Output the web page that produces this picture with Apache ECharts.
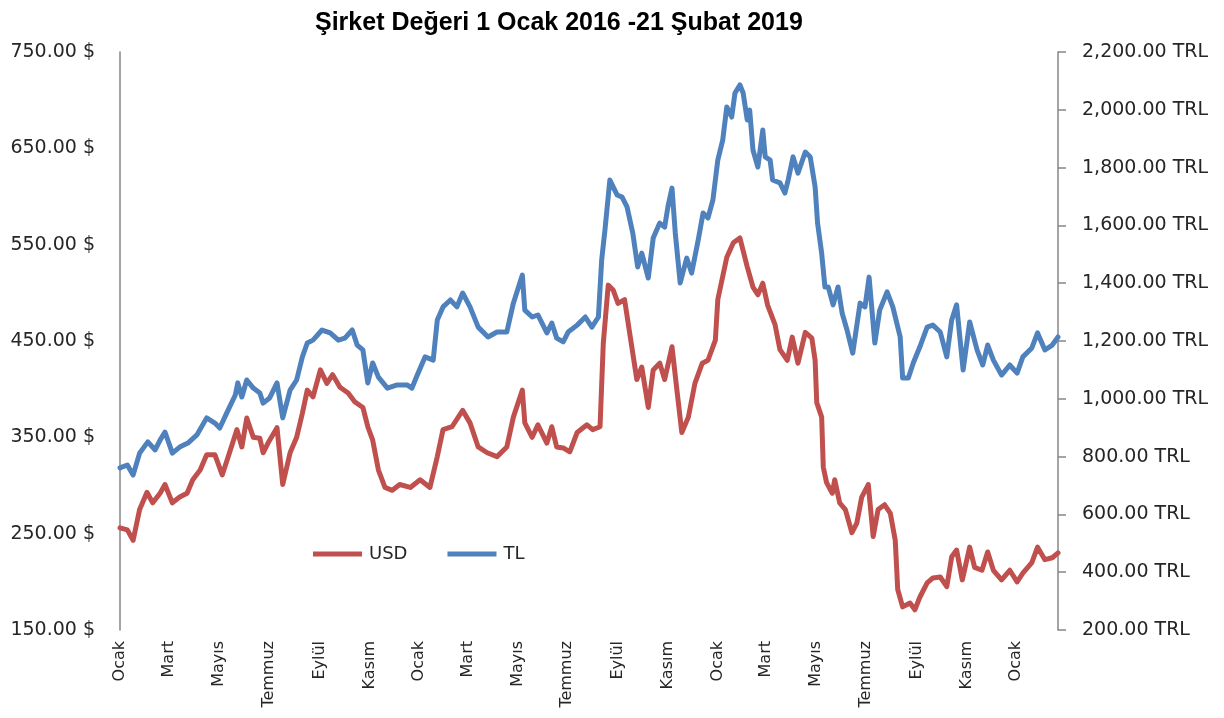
<!DOCTYPE html>
<html>
<head>
<meta charset="utf-8">
<title>Şirket Değeri</title>
<script src="https://cdn.jsdelivr.net/npm/echarts@6.0.0/dist/echarts.min.js"></script>
<style>
  html, body { margin: 0; padding: 0; background: #fff; }
  #chart { width: 1224px; height: 718px; }
</style>
</head>
<body>
<div id="chart"></div>
<script>
// değerler (yaklaşık)
const usdDates = [
  '2016-01-01', '2016-01-10', '2016-01-17', '2016-01-25', '2016-02-03', '2016-02-10', '2016-02-19', '2016-02-25',
  '2016-03-05', '2016-03-14', '2016-03-23', '2016-03-30', '2016-04-08', '2016-04-16', '2016-04-26', '2016-05-05',
  '2016-05-12', '2016-05-23', '2016-05-29', '2016-06-04', '2016-06-12', '2016-06-20', '2016-06-24', '2016-06-30',
  '2016-07-11', '2016-07-18', '2016-07-27', '2016-08-04', '2016-08-11', '2016-08-17', '2016-08-24', '2016-09-02',
  '2016-09-10', '2016-09-17', '2016-09-26', '2016-10-06', '2016-10-14', '2016-10-24', '2016-10-30', '2016-11-05',
  '2016-11-12', '2016-11-20', '2016-11-29', '2016-12-08', '2016-12-21', '2017-01-02', '2017-01-14', '2017-01-23',
  '2017-01-30', '2017-02-10', '2017-02-23', '2017-03-04', '2017-03-14', '2017-03-25', '2017-04-06', '2017-04-18',
  '2017-04-26', '2017-05-07', '2017-05-10', '2017-05-19', '2017-05-26', '2017-06-06', '2017-06-12', '2017-06-18',
  '2017-06-26', '2017-07-04', '2017-07-13', '2017-07-25', '2017-08-01', '2017-08-10', '2017-08-14', '2017-08-20',
  '2017-08-26', '2017-09-01', '2017-09-09', '2017-09-16', '2017-09-24', '2017-09-30', '2017-10-08', '2017-10-14',
  '2017-10-22', '2017-10-28', '2017-11-06', '2017-11-12', '2017-11-18', '2017-11-26', '2017-12-04', '2017-12-13',
  '2017-12-20', '2017-12-29', '2018-01-01', '2018-01-12', '2018-01-20', '2018-01-28', '2018-02-06', '2018-02-13',
  '2018-02-19', '2018-02-25', '2018-03-03', '2018-03-12', '2018-03-18', '2018-03-27', '2018-04-02', '2018-04-09',
  '2018-04-18', '2018-04-26', '2018-04-30', '2018-05-02', '2018-05-08', '2018-05-10', '2018-05-14', '2018-05-21',
  '2018-05-24', '2018-05-30', '2018-06-06', '2018-06-14', '2018-06-20', '2018-06-26', '2018-07-04', '2018-07-10',
  '2018-07-16', '2018-07-24', '2018-07-31', '2018-08-06', '2018-08-09', '2018-08-15', '2018-08-24', '2018-08-30',
  '2018-09-05', '2018-09-14', '2018-09-21', '2018-09-30', '2018-10-08', '2018-10-14', '2018-10-20', '2018-10-27',
  '2018-11-05', '2018-11-11', '2018-11-20', '2018-11-27', '2018-12-04', '2018-12-14', '2018-12-24', '2019-01-02',
  '2019-01-09', '2019-01-20', '2019-01-27', '2019-02-05', '2019-02-14', '2019-02-21'
];
const usdValues = [
  256, 254, 243, 275, 293, 282, 292, 301,
  282, 288, 292, 306, 316, 332, 332, 311,
  329, 358, 340, 370, 350, 349, 334, 344,
  360, 301, 334, 350, 375, 399, 392, 420,
  406, 415, 402, 396, 387, 381, 361, 347,
  316, 298, 295, 301, 298, 306, 298, 330,
  358, 361, 378, 365, 340, 334, 330, 340,
  371, 399, 365, 350, 363, 344, 361, 340,
  339, 335, 355, 363, 358, 361, 448, 508,
  503, 489, 493, 454, 410, 423, 381, 420,
  427, 410, 444, 399, 355, 371, 406, 427,
  430, 451, 493, 537, 552, 557, 527, 506,
  498, 510, 487, 467, 441, 430, 454, 427,
  459, 453, 430, 386, 371, 319, 303, 292,
  306, 282, 275, 251, 261, 288, 301, 247,
  275, 280, 271, 243, 192, 174, 178, 171,
  184, 199, 204, 205, 195, 226, 233, 202,
  236, 215, 212, 231, 212, 202, 212, 200,
  209, 220, 236, 223, 225, 230
];

const tlDates = [
  '2016-01-01', '2016-01-10', '2016-01-17', '2016-01-25', '2016-02-04', '2016-02-13', '2016-02-19', '2016-02-25',
  '2016-03-05', '2016-03-14', '2016-03-24', '2016-04-04', '2016-04-16', '2016-04-26', '2016-05-02', '2016-05-11',
  '2016-05-21', '2016-05-24', '2016-05-29', '2016-06-04', '2016-06-12', '2016-06-20', '2016-06-24', '2016-07-02',
  '2016-07-11', '2016-07-18', '2016-07-27', '2016-08-04', '2016-08-11', '2016-08-17', '2016-08-24', '2016-09-04',
  '2016-09-14', '2016-09-24', '2016-10-02', '2016-10-11', '2016-10-17', '2016-10-24', '2016-10-30', '2016-11-05',
  '2016-11-12', '2016-11-23', '2016-12-05', '2016-12-17', '2016-12-23', '2016-12-29', '2017-01-08', '2017-01-18',
  '2017-01-23', '2017-01-30', '2017-02-08', '2017-02-16', '2017-02-23', '2017-03-04', '2017-03-14', '2017-03-26',
  '2017-04-06', '2017-04-18', '2017-04-26', '2017-05-07', '2017-05-10', '2017-05-19', '2017-05-26', '2017-06-06',
  '2017-06-12', '2017-06-18', '2017-06-26', '2017-07-02', '2017-07-13', '2017-07-23', '2017-07-31', '2017-08-08',
  '2017-08-12', '2017-08-16', '2017-08-22', '2017-08-31', '2017-09-06', '2017-09-12', '2017-09-19', '2017-09-25',
  '2017-09-30', '2017-10-08', '2017-10-14', '2017-10-22', '2017-10-28', '2017-11-01', '2017-11-06', '2017-11-10',
  '2017-11-16', '2017-11-24', '2017-11-30', '2017-12-08', '2017-12-14', '2017-12-20', '2017-12-26', '2018-01-01',
  '2018-01-07', '2018-01-12', '2018-01-18', '2018-01-22', '2018-01-28', '2018-02-01', '2018-02-06', '2018-02-09',
  '2018-02-13', '2018-02-19', '2018-02-25', '2018-02-28', '2018-03-06', '2018-03-09', '2018-03-18', '2018-03-24',
  '2018-03-28', '2018-04-03', '2018-04-09', '2018-04-18', '2018-04-24', '2018-04-30', '2018-05-03', '2018-05-08',
  '2018-05-12', '2018-05-16', '2018-05-22', '2018-05-28', '2018-06-02', '2018-06-08', '2018-06-15', '2018-06-24',
  '2018-06-30', '2018-07-05', '2018-07-12', '2018-07-18', '2018-07-27', '2018-08-03', '2018-08-12', '2018-08-15',
  '2018-08-22', '2018-08-28', '2018-09-05', '2018-09-14', '2018-09-21', '2018-09-30', '2018-10-08', '2018-10-14',
  '2018-10-20', '2018-10-28', '2018-11-05', '2018-11-14', '2018-11-21', '2018-11-27', '2018-12-04', '2018-12-14',
  '2018-12-24', '2019-01-02', '2019-01-09', '2019-01-20', '2019-01-27', '2019-02-05', '2019-02-14', '2019-02-21'
];
const tlValues = [
  761, 771, 736, 812, 851, 823, 857, 885,
  812, 833, 847, 875, 934, 916, 899, 954,
  1013, 1055, 1006, 1065, 1037, 1020, 985, 1003,
  1055, 934, 1030, 1065, 1145, 1193, 1203, 1238,
  1228, 1203, 1210, 1238, 1186, 1169, 1055, 1124,
  1075, 1037, 1048, 1048, 1037, 1079, 1145, 1134,
  1273, 1318, 1342, 1318, 1366, 1318, 1248, 1214,
  1231, 1231, 1331, 1428, 1307, 1283, 1290, 1228,
  1262, 1210, 1197, 1231, 1255, 1283, 1248, 1283,
  1480, 1584, 1757, 1705, 1698, 1664, 1574, 1456,
  1504, 1418, 1556, 1608, 1594, 1664, 1729, 1574,
  1401, 1487, 1435, 1549, 1643, 1626, 1688, 1826,
  1895, 2010, 1975, 2058, 2086, 2058, 1965, 1999,
  1861, 1802, 1930, 1837, 1826, 1757, 1747, 1712,
  1757, 1837, 1781, 1854, 1837, 1733, 1608, 1504,
  1387, 1387, 1325, 1387, 1297, 1238, 1158, 1331,
  1318, 1421, 1193, 1307, 1370, 1318, 1214, 1072,
  1072, 1124, 1179, 1248, 1255, 1231, 1145, 1273,
  1325, 1100, 1266, 1169, 1117, 1186, 1134, 1082,
  1117, 1089, 1145, 1176, 1228, 1169, 1186, 1214
];

// x ekseni etiketleri: her iki ayda bir
const monthNames = ['Ocak', 'Şubat', 'Mart', 'Nisan', 'Mayıs', 'Haziran',
  'Temmuz', 'Ağustos', 'Eylül', 'Ekim', 'Kasım', 'Aralık'];
const labelMonths = [
  '2016-01-01', '2016-03-01', '2016-05-01', '2016-07-01', '2016-09-01', '2016-11-01',
  '2017-01-01', '2017-03-01', '2017-05-01', '2017-07-01', '2017-09-01', '2017-11-01',
  '2018-01-01', '2018-03-01', '2018-05-01', '2018-07-01', '2018-09-01', '2018-11-01',
  '2019-01-01'
];

function toTime(s) {
  const p = s.split('-').map(Number)
  return Date.UTC(p[0], p[1] - 1, p[2])
}

const usdData = usdDates.map((d, i) => [toTime(d), usdValues[i]])
const tlData = tlDates.map((d, i) => [toTime(d), tlValues[i]])
const labelTicks = labelMonths.map(toTime)

const FONT = "'DejaVu Sans', sans-serif"
const TITLE_FONT = "'Liberation Sans', Arial, sans-serif"
const AXIS_GREY = '#868686'
const TEXT = '#262626'

const chart = echarts.init(document.getElementById('chart'))

const option = {
  backgroundColor: '#fff',
  animation: false,
  title: {
    text: 'Şirket Değeri 1 Ocak 2016 -21 Şubat 2019',
    left: 310,
    top: 6,
    textStyle: {
      fontFamily: TITLE_FONT,
      fontSize: 25,
      fontWeight: 'bold',
      color: '#000'
    }
  },
  legend: {
    data: ['USD', 'TL'],
    left: 308,
    top: 540,
    itemWidth: 49,
    itemHeight: 5,
    itemGap: 40,
    icon: 'rect',
    textStyle: { fontFamily: FONT, fontSize: 18, color: TEXT, padding: [0, 0, 0, 2] }
  },
  grid: {
    left: 120,
    right: 166,
    top: 52,
    bottom: 88
  },
  xAxis: {
    type: 'value',
    min: toTime('2016-01-01'),
    max: toTime('2019-02-21'),
    axisLine: { show: false },
    axisTick: { show: false },
    splitLine: { show: false },
    axisLabel: {
      customValues: labelTicks,
      rotate: 90,
      margin: 11,
      fontFamily: FONT,
      fontSize: 16,
      color: TEXT,
      formatter: v => monthNames[new Date(v).getUTCMonth()]
    }
  },
  yAxis: [
    {
      type: 'value',
      min: 150,
      max: 750,
      interval: 100,
      axisLine: { show: true, lineStyle: { color: AXIS_GREY, width: 1.5 } },
      axisTick: { show: false },
      splitLine: { show: false },
      axisLabel: {
        margin: 25,
        fontFamily: FONT,
        fontSize: 19,
        color: TEXT,
        formatter: v => v.toFixed(2) + ' $'
      }
    },
    {
      type: 'value',
      min: 200,
      max: 2200,
      interval: 200,
      position: 'right',
      axisLine: { show: true, lineStyle: { color: AXIS_GREY, width: 1.5 } },
      axisTick: { show: true, length: 8, lineStyle: { color: AXIS_GREY, width: 1.5 } },
      splitLine: { show: false },
      axisLabel: {
        margin: 24,
        fontFamily: FONT,
        fontSize: 19,
        color: TEXT,
        formatter: v => v.toLocaleString('en-US', { minimumFractionDigits: 2, maximumFractionDigits: 2 }) + ' TRL'
      }
    }
  ],
  series: [
    {
      name: 'USD',
      type: 'line',
      yAxisIndex: 0,
      data: usdData,
      symbol: 'none',
      showSymbol: false,
      color: '#C0504D',
      lineStyle: { color: '#C0504D', width: 5, join: 'round', cap: 'round' }
    },
    {
      name: 'TL',
      type: 'line',
      yAxisIndex: 1,
      data: tlData,
      symbol: 'none',
      showSymbol: false,
      color: '#4F81BD',
      lineStyle: { color: '#4F81BD', width: 5, join: 'round', cap: 'round' }
    }
  ]
}

chart.setOption(option)
</script>
</body>
</html>
